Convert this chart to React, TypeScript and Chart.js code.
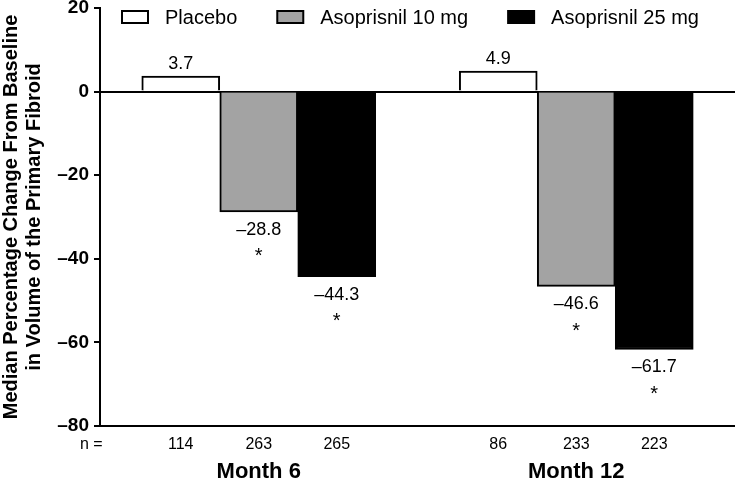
import React, { useEffect, useRef } from 'react';
import { Chart, registerables } from 'chart.js';

Chart.register(...registerables);

const categories = ['Month 6', 'Month 12'];
const seriesNames = ['Placebo', 'Asoprisnil 10 mg', 'Asoprisnil 25 mg'];
const placebo = [3.7, 4.9];
const aso10 = [-28.8, -46.6];
const aso25 = [-44.3, -61.7];
const nPlacebo = [114, 86];
const nAso10 = [263, 233];
const nAso25 = [265, 223];
const sigPlacebo = [false, false];
const sigAso10 = [true, true];
const sigAso25 = [true, true];
const yTitle = ['Median Percentage Change From Baseline', 'in Volume of the Primary Fibroid'];
const yMin = -80;
const yMax = 20;
const yStep = 20;

const FONT = '"Liberation Sans", Arial, Helvetica, sans-serif';
const fills = ['#ffffff', '#a3a3a3', '#000000'];

const fmt = (v: number) => (v < 0 ? '\u2013' + Math.abs(v).toFixed(1) : v.toFixed(1));

const counts = [nPlacebo, nAso10, nAso25];
const sigs = [sigPlacebo, sigAso10, sigAso25];

const annotPlugin = {
  id: 'annot',
  afterDatasetsDraw(chart: any) {
    const ctx = chart.ctx;
    const area = chart.chartArea;
    ctx.save();
    ctx.fillStyle = '#000';
    ctx.textAlign = 'center';
    ctx.textBaseline = 'middle';
    chart.data.datasets.forEach((ds: any, i: number) => {
      const meta = chart.getDatasetMeta(i);
      meta.data.forEach((bar: any, j: number) => {
        const v = ds.data[j];
        const x = bar.x;
        const y = bar.y;
        ctx.font = '18px ' + FONT;
        if (v >= 0) {
          ctx.fillText(fmt(v), x, y - 12);
        } else {
          ctx.fillText(fmt(v), x, y + 18);
          if (sigs[i][j]) {
            ctx.font = '20px ' + FONT;
            ctx.fillText('*', x, y + 45);
          }
        }
        ctx.font = '16px ' + FONT;
        ctx.fillText(String(counts[i][j]), x, area.bottom + 19);
      });
    });
    ctx.font = '16px ' + FONT;
    ctx.textAlign = 'left';
    ctx.fillText('n =', area.left - 20, area.bottom + 19);

    // legend
    let lx = area.left + 22;
    const ly = area.top + 9;
    ctx.font = '20px ' + FONT;
    ctx.textBaseline = 'middle';
    chart.data.datasets.forEach((ds: any, i: number) => {
      ctx.fillStyle = fills[i];
      ctx.fillRect(lx, ly - 6, 26, 12);
      ctx.strokeStyle = '#000';
      ctx.lineWidth = 2;
      ctx.strokeRect(lx, ly - 6, 26, 12);
      ctx.fillStyle = '#000';
      const tx = lx + 26 + 17;
      ctx.fillText(ds.label, tx, ly + 1);
      lx = tx + ctx.measureText(ds.label).width + 40;
    });
    ctx.restore();
  },
};

export default function App() {
  const ref = useRef<HTMLCanvasElement | null>(null);
  useEffect(() => {
    if (!ref.current) return;
    const chart = new Chart(ref.current, {
      type: 'bar',
      data: {
        labels: categories,
        datasets: [
          { label: seriesNames[0], data: placebo, backgroundColor: fills[0], borderColor: '#000', borderWidth: 2 },
          { label: seriesNames[1], data: aso10, backgroundColor: fills[1], borderColor: '#000', borderWidth: 2 },
          { label: seriesNames[2], data: aso25, backgroundColor: fills[2], borderColor: '#000', borderWidth: 2 },
        ],
      },
      options: {
        responsive: false,
        animation: false,
        layout: { padding: { top: 8, left: 0, right: 0, bottom: 0 } },
        datasets: { bar: { barThickness: 78 } },
        plugins: {
          legend: { display: false },
          tooltip: { enabled: false },
        },
        scales: {
          x: {
            type: 'category',
            grid: { display: false, drawTicks: false },
            border: { display: true, color: '#000', width: 2 },
            ticks: {
              color: '#000',
              font: { family: FONT, size: 22, weight: 'bold' },
              padding: 33,
              maxRotation: 0,
            },
            afterFit: (s: any) => {
              s.height = 56;
            },
          },
          y: {
            min: yMin,
            max: yMax,
            grid: {
              color: (c: any) => (c.tick && c.tick.value === 0 ? '#000' : 'rgba(0,0,0,0)'),
              lineWidth: (c: any) => (c.tick && c.tick.value === 0 ? 2 : 0),
              tickColor: '#000',
              tickWidth: 2,
              tickLength: 6,
              drawTicks: true,
            },
            border: { display: true, color: '#000', width: 2 },
            ticks: {
              stepSize: yStep,
              color: '#000',
              padding: 5,
              font: { family: FONT, size: 19, weight: 'bold' },
              callback: (v: any) => (Number(v) < 0 ? '\u2013' + Math.abs(Number(v)) : String(v)),
            },
            title: {
              display: true,
              text: yTitle,
              color: '#000',
              font: { family: FONT, size: 20, weight: 'bold', lineHeight: 1.15 },
              padding: 0,
            },
            afterFit: (s: any) => {
              s.width = 100;
              s.paddingTop = 0;
              s.paddingBottom = 0;
            },
          },
        },
      },
      plugins: [annotPlugin],
    } as any);
    return () => chart.destroy();
  }, []);
  return (
    <div style={{ position: 'fixed', left: 0, top: 0, width: 735, height: 482, background: '#fff' }}>
      <canvas ref={ref} width={735} height={482} style={{ display: 'block' }} />
    </div>
  );
}
